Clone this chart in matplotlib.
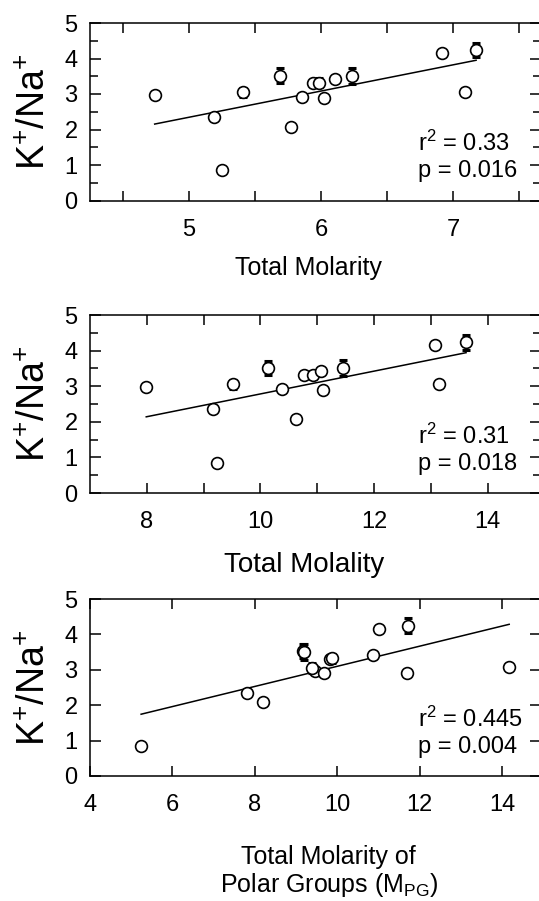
import numpy as np
import matplotlib
matplotlib.use("Agg")
import matplotlib.pyplot as plt

plt.rcParams["font.family"] = ["Liberation Sans", "DejaVu Sans"]
plt.rcParams["mathtext.fontset"] = "custom"
plt.rcParams["mathtext.rm"] = "Liberation Sans"
plt.rcParams["mathtext.it"] = "Liberation Sans:italic"
plt.rcParams["mathtext.bf"] = "Liberation Sans:bold"

# K+/Na+ ratio per sample (same 15 samples in every panel)
ratio     = [2.97, 2.35, 0.85, 3.05, 3.52, 2.08, 2.92, 3.31, 3.32, 2.90, 3.43, 3.51, 4.15, 3.07, 4.24]
ratio_err = [0, 0, 0, 0.13, 0.20, 0, 0, 0, 0.12, 0, 0, 0.22, 0, 0, 0.21]

molarity  = [4.74, 5.19, 5.25, 5.41, 5.69, 5.77, 5.855, 5.94, 5.985, 6.025, 6.105, 6.235, 6.92, 7.09, 7.175]
molality  = [7.99, 9.17, 9.23, 9.51, 10.14, 10.63, 10.38, 10.76, 10.92, 11.10, 11.07, 11.46, 13.08, 13.15, 13.62]
polar_mpg = [9.45, 7.81, 5.24, 9.38, 9.17, 8.19, 11.69, 9.83, 9.88, 9.68, 10.86, 9.20, 11.02, 14.17, 11.71]

# regression lines
slopes     = [0.738, 0.320, 0.2844]
intercepts = [-1.345, -0.417, 0.255]
r2_text    = ["r$^2$ = 0.33", "r$^2$ = 0.31", "r$^2$ = 0.445"]
p_text     = ["p = 0.016", "p = 0.018", "p = 0.004"]

xlabels = ["Total Molarity", "Total Molality", "Total Molarity of\nPolar Groups (M$_{\\mathrm{PG}}$)"]
xticks  = [[4.5, 5, 5.5, 6, 6.5, 7, 7.5],
           [8, 9, 10, 11, 12, 13, 14],
           [4, 6, 8, 10, 12, 14]]
xtick_labels = [["", "5", "", "6", "", "7", ""],
                ["8", "", "10", "", "12", "", "14"],
                ["4", "6", "8", "10", "12", "14"]]
xlims = [(4.25, 7.663), (7.0, 14.93), (4.0, 14.93)]

W, H = 539, 901
LEFT, RIGHT = 90, 540.5
panel_px = [(23, 200.5), (315, 493), (599, 776)]   # top, bottom in pixels
xlabel_size = [18, 20, 18]
xlabel_pad  = [11, 14, 21]
xlabel_cx   = [0.485, 0.475, 0.53]

fig = plt.figure(figsize=(W / 100, H / 100), dpi=100)

for i, xs in enumerate([molarity, molality, polar_mpg]):
    top, bot = panel_px[i]
    ax = fig.add_axes([LEFT / W, 1 - bot / H, (RIGHT - LEFT) / W, (bot - top) / H])

    xs = np.array(xs)
    ys = np.array(ratio)
    err = np.array(ratio_err)

    xx = np.array([xs.min(), xs.max()])
    ax.plot(xx, slopes[i] * xx + intercepts[i], color="black", lw=1.1, zorder=2)

    m = err > 0
    ax.errorbar(xs[m], ys[m], yerr=err[m], fmt="none", ecolor="black",
                elinewidth=1.2, capsize=3.2, capthick=2.2, zorder=3)
    ax.plot(xs, ys, "o", mfc="white", mec="black", ms=8.5, mew=1.2, zorder=4)

    ax.set_xlim(*xlims[i])
    ax.set_ylim(0, 5)
    ax.set_xticks(xticks[i])
    ax.set_xticklabels(xtick_labels[i])
    ax.set_yticks([0, 1, 2, 3, 4, 5])
    if i < 2:
        ax.set_yticks(np.arange(0.5, 5, 1.0), minor=True)

    ax.tick_params(axis="both", which="both", direction="in", top=True, right=True,
                   width=1.1, labelsize=17)
    ax.tick_params(axis="x", which="major", length=7.5, pad=13)
    ax.tick_params(axis="y", which="major", length=8, pad=9)
    ax.tick_params(axis="y", which="minor", length=6)
    for s in ax.spines.values():
        s.set_linewidth(1.1)

    ax.set_ylabel("K$^{+}$/Na$^{+}$", fontsize=27)
    ax.yaxis.set_label_coords(-0.082, 0.5)
    ax.set_xlabel(xlabels[i], fontsize=xlabel_size[i], labelpad=xlabel_pad[i],
                  linespacing=1.1)
    ax.xaxis.label.set_x(xlabel_cx[i])

    ax.text(0.727, 0.32, r2_text[i], transform=ax.transAxes, ha="left", va="center", fontsize=17)
    ax.text(0.727, 0.165, p_text[i], transform=ax.transAxes, ha="left", va="center", fontsize=17)

fig.savefig("out.png", dpi=100)
